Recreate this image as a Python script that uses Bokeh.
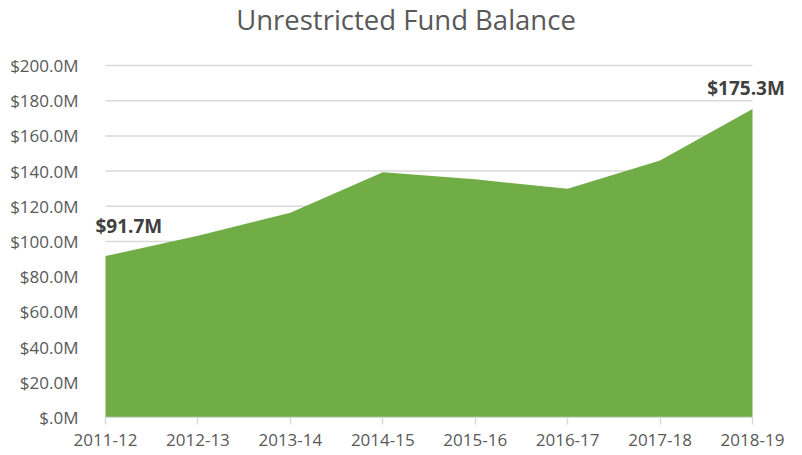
from bokeh.plotting import figure
from bokeh.models import FixedTicker, Range1d, CustomJSTickFormatter, Label
from bokeh.embed import file_html
from bokeh.resources import INLINE

title_text = "Unrestricted Fund Balance"
years = ["2011-12", "2012-13", "2013-14", "2014-15", "2015-16", "2016-17", "2017-18", "2018-19"]
balance = [91.7, 103.3, 116.3, 139.3, 135.3, 130.0, 146.0, 175.3]
y_ticks = [0, 20, 40, 60, 80, 100, 120, 140, 160, 180, 200]
label_first = "$91.7M"
label_last = "$175.3M"

xs = list(range(len(years)))

# layout (pixels)
W, H = 800, 455
FRAME_L, FRAME_R = 90, 790      # frame bounds (wider than data so labels are not clipped)
DATA_L, DATA_R = 105, 752       # pixel positions of first / last category
DATA_TOP, BOTTOM = 65, 417      # pixel positions of y=200 and y=0
FRAME_TOP = 0

ppu = (DATA_R - DATA_L) / (len(xs) - 1)
x_start = xs[0] - (DATA_L - FRAME_L) / ppu
x_end = xs[-1] + (FRAME_R - DATA_R) / ppu
ppu_y = (BOTTOM - DATA_TOP) / y_ticks[-1]
y_end = (BOTTOM - FRAME_TOP) / ppu_y

p = figure(width=W, height=H, output_backend="svg", toolbar_location=None,
           x_range=Range1d(x_start, x_end), y_range=Range1d(0, y_end),
           min_border_left=FRAME_L, min_border_right=W - FRAME_R, min_border_top=FRAME_TOP,
           min_border_bottom=H - BOTTOM)

# gridlines spanning the category range only
p.segment(x0=[xs[0]] * len(y_ticks), x1=[xs[-1]] * len(y_ticks), y0=y_ticks, y1=y_ticks,
          line_color="#d9d9d9", line_width=1.5)

p.varea(x=xs, y1=[0] * len(xs), y2=balance, fill_color="#70AD47", fill_alpha=1.0)

# category axis line
p.segment(x0=[xs[0]], x1=[xs[-1]], y0=[0], y1=[0], line_color="#d9d9d9", line_width=1.5)

# title
p.add_layout(Label(x=(xs[0] + xs[-1]) / 2, y=y_ticks[-1], text=title_text,
                   x_offset=-23, y_offset=46, text_align="center", text_baseline="middle",
                   text_font="Open Sans", text_font_size="27.5px", text_color="#595959"))

p.add_layout(Label(x=xs[0], y=balance[0], text=label_first, x_offset=-10, y_offset=30,
                   text_align="left", text_baseline="middle", text_font="Open Sans",
                   text_font_size="19px", text_font_style="bold", text_color="#404040"))
p.add_layout(Label(x=xs[-1], y=balance[-1], text=label_last, x_offset=-6.5, y_offset=21,
                   text_align="center", text_baseline="middle", text_font="Open Sans",
                   text_font_size="19px", text_font_style="bold", text_color="#404040"))

p.outline_line_color = None
p.background_fill_color = "white"
p.border_fill_color = "white"

p.xgrid.grid_line_color = None
p.ygrid.grid_line_color = None

p.yaxis.ticker = FixedTicker(ticks=y_ticks)
p.yaxis.formatter = CustomJSTickFormatter(code="""
const s = tick.toFixed(1);
return '$' + (tick === 0 ? '.0' : s) + 'M';
""")
p.yaxis.axis_line_color = None
p.yaxis.major_tick_line_color = None
p.yaxis.minor_tick_line_color = None
p.yaxis.major_label_standoff = 21 - (DATA_L - FRAME_L)
p.yaxis.major_label_text_font = "Open Sans"
p.yaxis.major_label_text_font_size = "17px"
p.yaxis.major_label_text_color = "#595959"

p.xaxis.ticker = FixedTicker(ticks=xs)
p.xaxis.major_label_overrides = {i: y for i, y in enumerate(years)}
p.xaxis.axis_line_color = None
p.xaxis.major_tick_line_color = "#d9d9d9"
p.xaxis.major_tick_line_width = 1.5
p.xaxis.major_tick_in = 0
p.xaxis.major_tick_out = 7
p.xaxis.minor_tick_line_color = None
p.xaxis.major_label_standoff = 9
p.xaxis.major_label_text_font = "Open Sans"
p.xaxis.major_label_text_font_size = "17px"
p.xaxis.major_label_text_color = "#595959"

open("out.html", "w").write(file_html(p, INLINE))
